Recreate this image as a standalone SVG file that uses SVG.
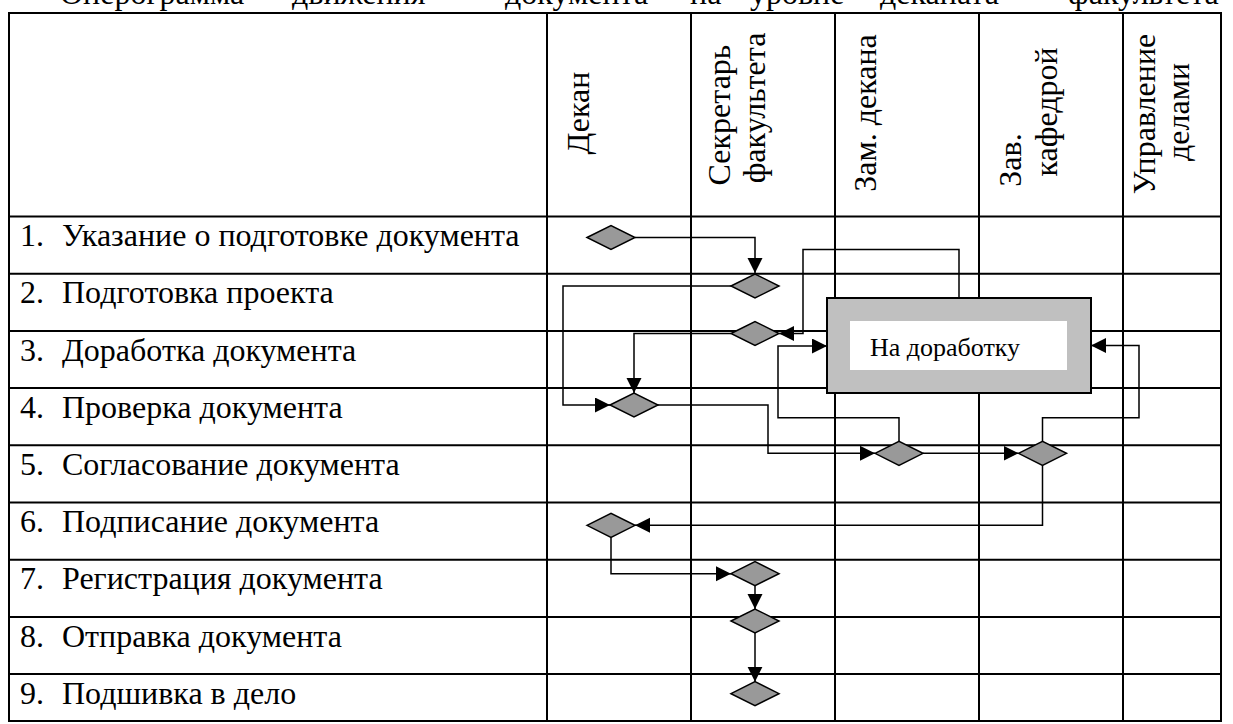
<svg xmlns="http://www.w3.org/2000/svg" width="1233" height="724" viewBox="0 0 1233 724">
<style>
.t{font-family:"Liberation Serif","Times New Roman",serif;font-size:32px;fill:#000}
.title{font-family:"Liberation Serif","Times New Roman",serif;font-size:32px;fill:#000}
.bx{font-family:"Liberation Serif","Times New Roman",serif;font-size:26px;fill:#000}
.grid{stroke:#000;stroke-width:2;fill:none}
.dm{fill:#999999;stroke:#000;stroke-width:1.5}
.ar{fill:none;stroke:#000;stroke-width:1.5;marker-end:url(#arr)}
</style>
<defs>
<marker id="arr" markerUnits="userSpaceOnUse" markerWidth="16" markerHeight="16" refX="15" refY="7.5" orient="auto">
<path d="M0,0 L15,7.5 L0,15 z" fill="#000"/>
</marker>
<path id="dia" d="M-24,0 L0,-12 L24,0 L0,12 z"/>
</defs>
<rect width="1233" height="724" fill="#fff"/>
<g id="title">
<text class="title" y="4"><tspan x="60">Оперограмма</tspan><tspan x="292">движения</tspan><tspan x="505">документа</tspan><tspan x="690">на</tspan><tspan x="750">уровне</tspan><tspan x="880">деканата</tspan><tspan x="1068">факультета</tspan></text>
</g>
<g id="table">
<rect class="grid" x="9" y="13" width="1212" height="708"/>
<path class="grid" d="M547,13V721M691,13V721M835,13V721M979,13V721M1123,13V721"/>
<path class="grid" d="M9,216.5H1221M9,273.7H1221M9,330.9H1221M9,388.1H1221M9,445.3H1221M9,502.5H1221M9,559.7H1221M9,616.9H1221M9,674.1H1221"/>
</g>
<g id="headers">
<text class="t" text-anchor="middle" transform="translate(589,113) rotate(-90)">Декан</text>
<text class="t" text-anchor="middle" transform="translate(730,115) rotate(-90)">Секретарь</text>
<text class="t" text-anchor="middle" transform="translate(765,108) rotate(-90)">факультета</text>
<text class="t" text-anchor="middle" transform="translate(876,113) rotate(-90)">Зам. декана</text>
<text class="t" text-anchor="middle" transform="translate(1021,160) rotate(-90)">Зав.</text>
<text class="t" text-anchor="middle" transform="translate(1057,112) rotate(-90)">кафедрой</text>
<text class="t" text-anchor="middle" transform="translate(1155,114) rotate(-90)">Управление</text>
<text class="t" text-anchor="middle" transform="translate(1189,112) rotate(-90)">делами</text>
</g>
<g id="rows">
<text class="t" x="20" y="246">1.<tspan x="62">Указание о подготовке документа</tspan></text>
<text class="t" x="20" y="303">2.<tspan x="62">Подготовка проекта</tspan></text>
<text class="t" x="20" y="360.5">3.<tspan x="62">Доработка документа</tspan></text>
<text class="t" x="20" y="417.5">4.<tspan x="62">Проверка документа</tspan></text>
<text class="t" x="20" y="475">5.<tspan x="62">Согласование документа</tspan></text>
<text class="t" x="20" y="532">6.<tspan x="62">Подписание документа</tspan></text>
<text class="t" x="20" y="589">7.<tspan x="62">Регистрация документа</tspan></text>
<text class="t" x="20" y="646.5">8.<tspan x="62">Отправка документа</tspan></text>
<text class="t" x="20" y="703.5">9.<tspan x="62">Подшивка в дело</tspan></text>
</g>
<g id="connectors">
<path class="ar" d="M635,237.5H755V273"/>
<path class="ar" d="M731,286H563V405H610"/>
<path class="ar" d="M731,333.5H634V393"/>
<path class="ar" d="M658,405H768V453.3H875"/>
<path class="ar" d="M923,453.3H1018.5"/>
<path class="ar" d="M1042.5,465.3V525.3H635"/>
<path class="ar" d="M611,537.3V573.7H731"/>
<path class="ar" d="M755,585.7V609"/>
<path class="ar" d="M755,633V681.7"/>
<path class="ar" d="M959,298V249.5H803V333.5H779"/>
<path class="ar" d="M899,441.3V417.7H778V346H827"/>
<path class="ar" d="M1042.5,441.3V417.7H1139V345.5H1091"/>
</g>
<g id="n1"><use href="#dia" class="dm" x="611" y="237.5"/></g>
<g id="n2"><use href="#dia" class="dm" x="755" y="286"/></g>
<g id="n3"><use href="#dia" class="dm" x="755" y="333.5"/></g>
<g id="n4"><use href="#dia" class="dm" x="634" y="405"/></g>
<g id="n5"><use href="#dia" class="dm" x="899" y="453.3"/></g>
<g id="n6"><use href="#dia" class="dm" x="1042.5" y="453.3"/></g>
<g id="n7"><use href="#dia" class="dm" x="611" y="525.3"/></g>
<g id="n8"><use href="#dia" class="dm" x="755" y="573.7"/></g>
<g id="n9"><use href="#dia" class="dm" x="755" y="621"/></g>
<g id="n10"><use href="#dia" class="dm" x="755" y="693.7"/></g>
<g id="box">
<rect x="827" y="298" width="264" height="95" fill="#c0c0c0" stroke="#000" stroke-width="2"/>
<rect x="850" y="321" width="217" height="49" fill="#fff"/>
<text class="bx" x="870" y="356">На доработку</text>
</g>
</svg>
